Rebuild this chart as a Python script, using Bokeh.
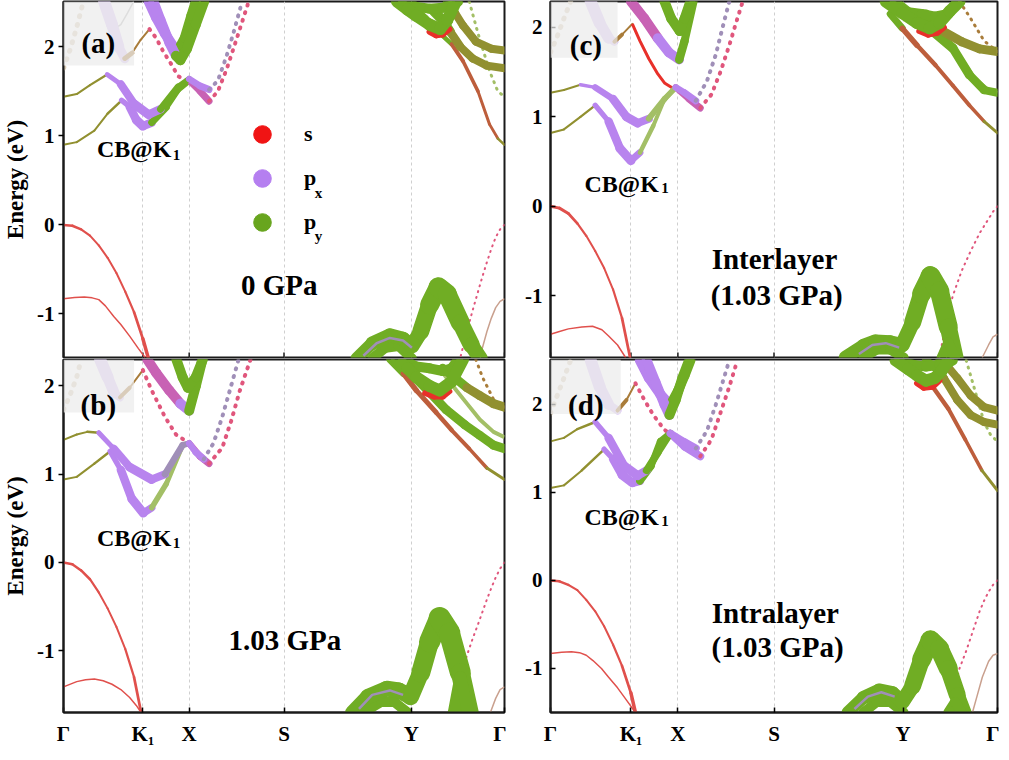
from bokeh.plotting import figure
from bokeh.layouts import gridplot
from bokeh.models import Range1d, FixedTicker, Label, BoxAnnotation, Legend, LegendItem
from bokeh.embed import file_html
from bokeh.resources import INLINE

# ---------------- axes / labels ----------------
K_TICKS = [0.0, 0.18, 0.285, 0.5, 0.789, 1.0]
K_LABELS = ["Γ", "K₁", "X", "S", "Y", "Γ"]
K_GRID = [0.18, 0.285, 0.5, 0.789]
E_TICKS = [-1, 0, 1, 2]
E_LABELS = ["-1", "0", "1", "2"]
E_RANGE_A = (-1.49, 2.51)
E_RANGE_B = (-1.70, 2.30)
E_RANGE_C = (-1.69, 2.29)
E_RANGE_D = (-1.50, 2.51)
LEGEND_LABELS = ["s", "p", "p"]
LEGEND_SUBS = ["", "x", "y"]

# band tuples: (k, E, width(s), colour code(s), style)  style: f = fat, l = line, d = dotted
# ---------------- panel (a): 0 GPa ----------------
A_VB1 = ([0, 0.02, 0.04, 0.06, 0.08, 0.10, 0.12, 0.14, 0.16, 0.18, 0.192], [0, -0.01, -0.05, -0.12, -0.23, -0.37, -0.54, -0.75, -0.98, -1.28, -1.49], [2.5, 2.5, 2.5, 2, 2, 2, 2, 2, 2.5, 3, 4], "R", "f")
A_VB2 = ([0, 0.025, 0.047, 0.065, 0.08, 0.095, 0.114, 0.13, 0.15, 0.17, 0.185], [-0.83, -0.815, -0.81, -0.82, -0.84, -0.91, -1.03, -1.12, -1.25, -1.39, -1.49], 1.5, "R", "l")
A_VB3 = ([1.0, 0.99, 0.98, 0.97, 0.96, 0.95, 0.94, 0.93, 0.92, 0.91, 0.90], [0, -0.05, -0.14, -0.27, -0.42, -0.58, -0.75, -0.92, -1.1, -1.29, -1.49], 2, "k", "d")
A_VB4 = ([1.0, 0.99, 0.98, 0.97, 0.96, 0.95, 0.945], [-0.83, -0.86, -0.93, -1.05, -1.2, -1.38, -1.49], 1.5, "c", "l")
A_HUMP = ([0.665, 0.70, 0.74, 0.77, 0.79, 0.81, 0.83, 0.85, 0.87, 0.90, 0.925, 0.945], [-1.5, -1.33, -1.24, -1.28, -1.36, -1.2, -0.9, -0.70, -0.78, -1.1, -1.35, -1.5], [12, 13, 14, 14, 14, 16, 18, 20, 20, 18, 16, 14], "g", "f")
A_HUMP2 = ([0.70, 0.73, 0.76, 0.79], [-1.5, -1.38, -1.36, -1.5], 10, "g", "f")
A_HUMP3 = ([0.68, 0.71, 0.74, 0.77, 0.79], [-1.47, -1.33, -1.27, -1.3, -1.38], 2.5, "v", "l")
A_CB1 = ([0, 0.03, 0.07, 0.10, 0.132, 0.15, 0.165, 0.18, 0.2, 0.233, 0.26, 0.285, 0.31, 0.33], [0.90, 0.93, 1.06, 1.25, 1.40, 1.33, 1.18, 1.11, 1.15, 1.32, 1.52, 1.62, 1.50, 1.39], [2, 2, 2, 2, 3, 8, 9, 9, 8, 6, 6, 6, 7, 7], "ooooppppgggmmm", "f")
A_CB1D = ([0.33, 0.35, 0.37, 0.39, 0.405, 0.42], [1.39, 1.5, 1.75, 2.05, 2.28, 2.51], 4, "k", "d")
A_CB2 = ([0, 0.03, 0.06, 0.099, 0.13, 0.16, 0.193, 0.22, 0.26, 0.285, 0.31, 0.33], [1.44, 1.47, 1.57, 1.69, 1.58, 1.36, 1.24, 1.30, 1.55, 1.64, 1.56, 1.52], [2, 2, 2, 2.5, 7, 9, 9, 8, 6, 6, 7, 7], "oooppppggppp", "f")
A_CB2D = ([0.33, 0.35, 0.37, 0.385, 0.405], [1.52, 1.62, 1.9, 2.15, 2.51], 4, "v", "d")
A_P1 = ([0.092, 0.11, 0.125, 0.139, 0.155, 0.175, 0.195], [2.51, 2.25, 2.0, 1.87, 1.93, 2.08, 2.2], [12, 12, 11, 8, 2, 2, 2], "lllbbbb", "f")
A_P1D = ([0.195, 0.21, 0.226, 0.245, 0.26, 0.285], [2.2, 2.1, 1.95, 1.8, 1.67, 1.6], 4, "k", "d")
A_V1 = ([0.193, 0.21, 0.23, 0.25, 0.26, 0.275, 0.29, 0.30], [2.51, 2.33, 2.15, 2.0, 1.96, 2.1, 2.35, 2.51], 10, "ppppgggg", "f")
A_V2 = ([0.204, 0.22, 0.24, 0.255, 0.265, 0.28, 0.30, 0.319], [2.51, 2.3, 2.05, 1.9, 1.85, 1.98, 2.25, 2.51], 10, "pppggggg", "f")
A_BEIGE = ([0, 0.015, 0.03, 0.045], [1.76, 1.97, 2.22, 2.51], 5, "e", "d")
A_GRAY = ([0.114, 0.13, 0.145, 0.159], [2.2, 2.25, 2.38, 2.51], 1.5, "x", "l")
A_LOOPR = ([0.83, 0.845, 0.86, 0.875], [2.17, 2.13, 2.14, 2.2], 6, "r", "f")
A_LOOP1 = ([0.756, 0.78, 0.80, 0.83, 0.854, 0.87, 0.89], [2.51, 2.42, 2.35, 2.25, 2.2, 2.3, 2.51], 12, "g", "f")
A_LOOP2 = ([0.77, 0.80, 0.83, 0.86, 0.88, 0.895], [2.51, 2.45, 2.43, 2.44, 2.47, 2.51], 10, "g", "f")
A_R1 = ([0.79, 0.82, 0.85, 0.88, 0.906, 0.94, 0.966, 0.985, 1.0], [2.45, 2.32, 2.17, 2.03, 1.84, 1.5, 1.13, 0.97, 0.90], [8, 7, 5, 4, 4, 3, 3, 2.5, 2.5], "gggnnnnoo", "f")
A_R2 = ([0.92, 0.94, 0.966, 0.985, 1.0], [2.51, 2.15, 1.73, 1.5, 1.44], 3, "y", "d")
A_R3 = ([0.84, 0.86, 0.877, 0.90, 0.928, 0.96, 1.0], [2.4, 2.3, 2.17, 2.0, 1.87, 1.79, 1.76], [10, 10, 9, 8, 8, 8, 8], "ggooooo", "f")
A_R4 = ([0.87, 0.888, 0.906, 0.935, 0.97, 1.0], [2.51, 2.38, 2.24, 2.06, 1.98, 1.96], 8, "gooooo", "f")

# ---------------- panel (b): 1.03 GPa ----------------
B_VB1 = ([0, 0.02, 0.04, 0.06, 0.08, 0.10, 0.12, 0.14, 0.16, 0.176], [0, -0.02, -0.09, -0.19, -0.34, -0.52, -0.73, -0.98, -1.3, -1.7], [2.5, 2.5, 2.5, 2.5, 2, 2, 2, 2, 2.5, 3], "R", "f")
B_VB2 = ([0, 0.03, 0.05, 0.07, 0.09, 0.11, 0.13, 0.15, 0.165, 0.176], [-1.41, -1.35, -1.33, -1.32, -1.34, -1.38, -1.44, -1.53, -1.62, -1.7], 1.5, "R", "l")
B_VB3 = ([1.0, 0.99, 0.98, 0.97, 0.96, 0.95, 0.94, 0.928, 0.915, 0.90, 0.888, 0.877], [0, -0.07, -0.17, -0.29, -0.42, -0.56, -0.7, -0.86, -1.05, -1.3, -1.5, -1.7], 2, "k", "d")
B_VB4 = ([1.0, 0.99, 0.98, 0.968], [-1.41, -1.44, -1.54, -1.7], 1.5, "c", "l")
B_HUMP = ([0.655, 0.69, 0.733, 0.76, 0.787, 0.81, 0.83, 0.853, 0.875, 0.90, 0.92], [-1.7, -1.52, -1.43, -1.45, -1.52, -1.25, -0.9, -0.63, -0.8, -1.25, -1.7], [14, 15, 16, 16, 16, 18, 20, 22, 22, 20, 18], "g", "f")
B_HUMP2 = ([0.68, 0.72, 0.75, 0.78], [-1.7, -1.58, -1.58, -1.7], 10, "g", "f")
B_HUMP3 = ([0.885, 0.90, 0.918], [-1.7, -1.3, -1.7], 12, "g", "f")
B_HUMP4 = ([0.67, 0.70, 0.74, 0.77], [-1.66, -1.5, -1.45, -1.5], 2.5, "v", "l")
B_CB1 = ([0, 0.03, 0.07, 0.106, 0.13, 0.155, 0.181, 0.2, 0.233, 0.27, 0.285, 0.31, 0.33], [0.94, 0.97, 1.12, 1.26, 1.05, 0.72, 0.56, 0.62, 0.89, 1.33, 1.35, 1.2, 1.12], [2, 2, 2, 3, 8, 9, 9, 6, 5, 5, 6, 7, 7], "oooppppyyymmm", "f")
B_CB1D = ([0.33, 0.36, 0.38, 0.40, 0.424], [1.12, 1.3, 1.6, 1.95, 2.3], 4, "k", "d")
B_CB2 = ([0, 0.03, 0.054, 0.08, 0.114, 0.15, 0.2, 0.23, 0.27, 0.285, 0.30, 0.318], [1.39, 1.45, 1.48, 1.47, 1.29, 1.08, 0.94, 1.0, 1.33, 1.35, 1.25, 1.17], [2, 2, 2, 3, 7, 9, 9, 7, 6, 6, 7, 7], "oooppppvvppp", "f")
B_CB2D = ([0.318, 0.34, 0.36, 0.38, 0.397], [1.17, 1.35, 1.65, 2.0, 2.3], 4, "v", "d")
B_P1 = ([0.083, 0.10, 0.115, 0.128, 0.15, 0.18], [2.3, 2.1, 1.92, 1.87, 1.98, 2.18], [12, 12, 10, 6, 2, 2], "lllbbb", "f")
B_P1D = ([0.18, 0.2, 0.23, 0.255, 0.285], [2.18, 1.95, 1.65, 1.45, 1.35], 4, "k", "d")
B_V1 = ([0.19, 0.21, 0.24, 0.265, 0.285, 0.30, 0.315], [2.3, 2.15, 1.95, 1.8, 1.72, 2.0, 2.3], 10, "mmmpggg", "f")
B_V2 = ([0.256, 0.27, 0.282, 0.30, 0.316], [2.3, 2.1, 1.98, 2.1, 2.3], 10, "g", "f")
B_BEIGE = ([0, 0.015, 0.03, 0.04], [1.73, 1.9, 2.1, 2.3], 5, "e", "d")
B_LOOPR = ([0.82, 0.84, 0.86, 0.875], [1.92, 1.88, 1.88, 1.94], 6, "r", "f")
B_LOOP1 = ([0.756, 0.78, 0.80, 0.83, 0.853, 0.88, 0.906], [2.3, 2.2, 2.1, 2.0, 1.95, 2.05, 2.3], 12, "g", "f")
B_LOOP2 = ([0.77, 0.80, 0.83, 0.86, 0.88, 0.895], [2.3, 2.22, 2.2, 2.17, 2.2, 2.3], 10, "g", "f")
B_R1 = ([0.74, 0.771, 0.80, 0.845, 0.88, 0.92, 0.96, 1.0], [2.3, 2.14, 1.95, 1.70, 1.5, 1.29, 1.07, 0.94], [8, 6, 5, 5, 4, 4, 3, 3], "gnnnnnoo", "f")
B_R2 = ([0.78, 0.794, 0.83, 0.868, 0.91, 0.944, 0.975, 1.0], [2.2, 2.11, 1.93, 1.73, 1.56, 1.44, 1.33, 1.29], 9, "g", "f")
B_R2B = ([0.86, 0.883, 0.915, 0.944, 0.975, 1.0], [2.15, 2.0, 1.8, 1.62, 1.48, 1.42], 4, "y", "l")
B_R4 = ([0.86, 0.883, 0.915, 0.944, 0.975, 1.0], [2.2, 2.11, 1.98, 1.89, 1.8, 1.76], 9, "ggoooo", "f")
B_R5 = ([0.935, 0.95, 0.975, 1.0], [2.3, 2.1, 1.85, 1.76], 3, "b", "d")

# ---------------- panel (c): interlayer 1.03 GPa ----------------
C_VB1 = ([0, 0.02, 0.04, 0.06, 0.08, 0.10, 0.12, 0.14, 0.16, 0.178], [0, -0.02, -0.08, -0.19, -0.33, -0.5, -0.69, -0.93, -1.25, -1.69], [3, 3, 3, 2.5, 2, 2, 2, 2, 2.5, 3], "R", "f")
C_VB2 = ([0, 0.02, 0.04, 0.07, 0.094, 0.115, 0.13, 0.15, 0.168], [-1.43, -1.4, -1.37, -1.35, -1.34, -1.38, -1.45, -1.55, -1.69], 1.5, "R", "l")
C_VB3 = ([1.0, 0.99, 0.98, 0.97, 0.96, 0.95, 0.94, 0.93, 0.92, 0.90, 0.885, 0.87], [0, -0.06, -0.14, -0.22, -0.3, -0.4, -0.5, -0.61, -0.72, -1.0, -1.3, -1.69], 2, "k", "d")
C_VB4 = ([1.0, 0.99, 0.98, 0.966], [-1.43, -1.46, -1.55, -1.69], 1.5, "c", "l")
C_HUMP = ([0.66, 0.70, 0.727, 0.76, 0.787, 0.81, 0.83, 0.85, 0.87, 0.89, 0.905], [-1.69, -1.56, -1.51, -1.52, -1.55, -1.3, -0.98, -0.78, -0.95, -1.35, -1.69], [13, 14, 14, 14, 14, 16, 18, 20, 20, 18, 16], "g", "f")
C_HUMP2 = ([0.70, 0.73, 0.76, 0.79], [-1.69, -1.6, -1.6, -1.69], 10, "g", "f")
C_HUMP3 = ([0.875, 0.89, 0.905], [-1.69, -1.52, -1.69], 10, "g", "f")
C_HUMP4 = ([0.69, 0.72, 0.75, 0.78], [-1.65, -1.55, -1.53, -1.58], 2.5, "v", "l")
C_CB1 = ([0, 0.03, 0.067, 0.10, 0.13, 0.155, 0.18, 0.2, 0.23, 0.255, 0.28, 0.31, 0.335], [0.82, 0.86, 1.0, 1.13, 0.95, 0.65, 0.51, 0.6, 0.9, 1.2, 1.33, 1.2, 1.10], [2, 2, 2, 2.5, 8, 9, 9, 5, 4, 4, 6, 7, 7], "oooppppyyymmm", "f")
C_CB1D = ([0.335, 0.36, 0.38, 0.40, 0.415, 0.43], [1.10, 1.25, 1.5, 1.8, 2.05, 2.29], 4, "k", "d")
C_CB2 = ([0, 0.03, 0.067, 0.10, 0.14, 0.17, 0.195, 0.22, 0.255, 0.28, 0.30, 0.325], [1.27, 1.3, 1.36, 1.33, 1.2, 1.0, 0.93, 0.98, 1.2, 1.33, 1.27, 1.18], [2, 2, 2, 5, 8, 9, 9, 7, 5, 6, 7, 7], "oopppppyyppp", "f")
C_CB2D = ([0.325, 0.35, 0.37, 0.385, 0.40], [1.18, 1.4, 1.7, 2.0, 2.29], 4, "v", "d")
C_P1 = ([0.09, 0.11, 0.13, 0.143, 0.16, 0.183], [2.29, 2.05, 1.88, 1.84, 1.92, 2.04], [12, 12, 10, 6, 2, 2], "lllbbb", "f")
C_P1D = ([0.183, 0.20, 0.22, 0.24, 0.255, 0.28], [2.04, 1.85, 1.65, 1.48, 1.38, 1.3], 3, "r", "l")
C_V1 = ([0.18, 0.21, 0.24, 0.265, 0.288, 0.30, 0.32], [2.29, 2.1, 1.88, 1.72, 1.64, 1.85, 2.29], [10, 10, 10, 10, 9, 8, 8], "mmppggg", "f")
C_V2 = ([0.255, 0.27, 0.289, 0.30, 0.313], [2.29, 2.1, 1.96, 2.1, 2.29], 10, "g", "f")
C_BEIGE = ([0, 0.015, 0.03, 0.045], [1.72, 1.9, 2.1, 2.29], 5, "e", "d")
C_LOOPR = ([0.825, 0.845, 0.865, 0.88], [1.96, 1.92, 1.94, 2.0], 6, "r", "f")
C_LOOP1 = ([0.75, 0.787, 0.82, 0.848, 0.87, 0.893, 0.915], [2.29, 2.16, 2.05, 1.99, 2.05, 2.18, 2.29], 12, "g", "f")
C_LOOP2 = ([0.77, 0.80, 0.83, 0.86, 0.89, 0.91], [2.29, 2.17, 2.15, 2.12, 2.15, 2.29], 10, "g", "f")
C_R1 = ([0.76, 0.787, 0.82, 0.861, 0.9, 0.937, 0.97, 1.0], [2.15, 1.99, 1.8, 1.58, 1.35, 1.13, 0.95, 0.82], [8, 6, 5, 4, 4, 4, 3, 3], "gnnnnnoo", "f")
C_R2 = ([0.83, 0.855, 0.9, 0.937, 0.97, 1.0], [2.1, 1.96, 1.77, 1.47, 1.3, 1.27], [10, 10, 9, 9, 8, 8], "g", "f")
C_R2B = ([0.87, 0.91, 0.95, 0.98, 1.0], [1.95, 1.72, 1.42, 1.3, 1.27], 4, "y", "l")
C_R4 = ([0.84, 0.86, 0.877, 0.92, 0.96, 1.0], [2.15, 2.05, 1.96, 1.84, 1.76, 1.73], 9, "ggoooo", "f")
C_R5 = ([0.915, 0.94, 0.97, 1.0], [2.29, 2.1, 1.85, 1.73], 3, "b", "d")

# ---------------- panel (d): intralayer 1.03 GPa ----------------
D_VB1 = ([0, 0.02, 0.04, 0.06, 0.08, 0.10, 0.12, 0.14, 0.16, 0.18, 0.19], [0, -0.01, -0.05, -0.11, -0.22, -0.35, -0.52, -0.73, -0.97, -1.28, -1.5], [2.5, 2.5, 2.5, 2, 2, 2, 2, 2, 2.5, 3, 4], "R", "f")
D_VB2 = ([0, 0.025, 0.047, 0.065, 0.08, 0.095, 0.114, 0.13, 0.15, 0.17, 0.19], [-0.83, -0.815, -0.81, -0.82, -0.85, -0.91, -1.0, -1.1, -1.22, -1.36, -1.5], 1.5, "R", "l")
D_VB3 = ([1.0, 0.99, 0.98, 0.97, 0.96, 0.95, 0.94, 0.93, 0.915, 0.905, 0.89], [0, -0.05, -0.13, -0.23, -0.35, -0.5, -0.65, -0.8, -1.0, -1.2, -1.5], 2, "k", "d")
D_VB4 = ([1.0, 0.99, 0.98, 0.966, 0.955, 0.944], [-0.83, -0.85, -0.92, -1.1, -1.3, -1.5], 1.5, "c", "l")
D_HUMP = ([0.665, 0.70, 0.735, 0.765, 0.787, 0.81, 0.83, 0.85, 0.87, 0.89, 0.91, 0.925], [-1.5, -1.33, -1.25, -1.28, -1.38, -1.2, -0.9, -0.68, -0.78, -1.0, -1.3, -1.5], [12, 13, 14, 14, 14, 16, 18, 20, 20, 18, 16, 14], "g", "f")
D_HUMP2 = ([0.70, 0.73, 0.76, 0.79], [-1.5, -1.38, -1.38, -1.5], 10, "g", "f")
D_HUMP3 = ([0.89, 0.905, 0.92], [-1.5, -1.38, -1.5], 10, "g", "f")
D_HUMP4 = ([0.68, 0.71, 0.74, 0.77], [-1.46, -1.32, -1.27, -1.32], 2.5, "v", "l")
D_CB1 = ([0, 0.03, 0.07, 0.12, 0.14, 0.16, 0.183, 0.2, 0.225, 0.246, 0.268, 0.30, 0.335], [1.05, 1.08, 1.25, 1.49, 1.38, 1.2, 1.11, 1.13, 1.3, 1.58, 1.67, 1.52, 1.41], [2, 2, 2, 3, 8, 9, 9, 8, 7, 7, 7, 8, 8], "oooppppgggppp", "f")
D_CB1D = ([0.335, 0.36, 0.38, 0.40, 0.418], [1.41, 1.6, 1.9, 2.2, 2.5], 4, "k", "d")
D_CB2 = ([0, 0.03, 0.06, 0.1, 0.13, 0.165, 0.195, 0.215, 0.24, 0.268, 0.30, 0.325], [1.58, 1.62, 1.72, 1.8, 1.62, 1.3, 1.19, 1.25, 1.45, 1.67, 1.57, 1.5], [2, 2, 2, 3, 8, 9, 9, 8, 7, 7, 8, 8], "oooppppggppp", "f")
D_CB2D = ([0.325, 0.35, 0.37, 0.385, 0.40], [1.5, 1.7, 2.0, 2.25, 2.5], 4, "v", "d")
D_P1 = ([0.09, 0.11, 0.13, 0.15, 0.17, 0.19], [2.5, 2.2, 2.0, 1.93, 2.05, 2.24], [12, 12, 10, 6, 2, 2], "lllbbb", "f")
D_P1D = ([0.19, 0.21, 0.23, 0.255, 0.268], [2.24, 2.05, 1.88, 1.71, 1.67], 4, "k", "d")
D_V1 = ([0.2, 0.22, 0.245, 0.268, 0.285, 0.30, 0.313], [2.5, 2.3, 2.12, 1.99, 2.15, 2.33, 2.5], 10, "pppgggg", "f")
D_V2 = ([0.215, 0.235, 0.255, 0.266, 0.28, 0.295, 0.31], [2.5, 2.25, 2.0, 1.88, 2.05, 2.3, 2.5], 10, "pppgggg", "f")
D_BEIGE = ([0, 0.015, 0.03, 0.045], [1.9, 2.1, 2.3, 2.5], 5, "e", "d")
D_LOOPR = ([0.82, 0.835, 0.855, 0.87], [2.24, 2.19, 2.2, 2.27], 6, "r", "f")
D_LOOP1 = ([0.772, 0.80, 0.82, 0.84, 0.86, 0.875, 0.89], [2.5, 2.4, 2.33, 2.27, 2.3, 2.38, 2.5], 12, "g", "f")
D_LOOP2 = ([0.78, 0.81, 0.84, 0.87, 0.89, 0.90], [2.5, 2.45, 2.43, 2.45, 2.47, 2.5], 10, "g", "f")
D_R1 = ([0.77, 0.80, 0.83, 0.855, 0.89, 0.928, 0.965, 1.0], [2.5, 2.38, 2.3, 2.2, 1.95, 1.6, 1.25, 1.02], [8, 7, 6, 5, 4, 4, 3, 3], "ggnnnnoo", "f")
D_R2 = ([0.93, 0.95, 0.97, 0.985, 1.0], [2.5, 2.15, 1.8, 1.65, 1.58], 3, "y", "d")
D_R3 = ([0.84, 0.86, 0.88, 0.91, 0.94, 0.97, 1.0], [2.5, 2.42, 2.3, 2.05, 1.88, 1.8, 1.77], 8, "ggooooo", "f")
D_R4 = ([0.87, 0.89, 0.91, 0.94, 0.97, 1.0], [2.5, 2.42, 2.3, 2.1, 1.97, 1.93], 8, "gooooo", "f")

BANDS_A = [A_VB2, A_VB4, A_VB3, A_VB1, A_HUMP2, A_HUMP, A_HUMP3, A_BEIGE, A_GRAY, A_P1, A_P1D,
           A_CB1, A_CB2, A_CB1D, A_CB2D, A_V1, A_V2, A_R2, A_R1, A_R3, A_R4, A_LOOPR, A_LOOP2, A_LOOP1]
BANDS_B = [B_VB2, B_VB4, B_VB3, B_VB1, B_HUMP2, B_HUMP, B_HUMP3, B_HUMP4, B_BEIGE, B_P1, B_P1D,
           B_CB1, B_CB2, B_CB1D, B_CB2D, B_V1, B_V2, B_R5, B_R1, B_R2B, B_R2, B_R4, B_LOOPR, B_LOOP2, B_LOOP1]
BANDS_C = [C_VB2, C_VB4, C_VB3, C_VB1, C_HUMP2, C_HUMP, C_HUMP3, C_HUMP4, C_BEIGE, C_P1, C_P1D,
           C_CB1, C_CB2, C_CB1D, C_CB2D, C_V1, C_V2, C_R5, C_R1, C_R2B, C_R2, C_R4, C_LOOPR, C_LOOP2, C_LOOP1]
BANDS_D = [D_VB2, D_VB4, D_VB3, D_VB1, D_HUMP2, D_HUMP, D_HUMP3, D_HUMP4, D_BEIGE, D_P1, D_P1D,
           D_CB1, D_CB2, D_CB1D, D_CB2D, D_V1, D_V2, D_R2, D_R1, D_R3, D_R4, D_LOOPR, D_LOOP2, D_LOOP1]

# ---------------- style ----------------
PAL = {
    "r": "#e8302a", "p": "#b884ee", "g": "#70ad24", "o": "#919030", "b": "#a97c3a",
    "m": "#c862b4", "k": "#e0567c", "v": "#a08fb8", "e": "#dacdb6", "l": "#dcc6f4",
    "y": "#a3bf66", "x": "#b8b8b8", "n": "#bd5e3c", "R": "#e0504c", "c": "#c9a08e",
}
LEG_COL = ["#f01414", "#b57ff0", "#68a51e"]
FONT = "Liberation Serif"
NAN = float("nan")


def draw_bands(p, bands):
    for k, e, w, c, st in bands:
        n = len(k)
        if st == "f":
            ws = w if isinstance(w, list) else [w] * n
            cs = c if len(c) >= n - 1 else c[-1] * n
            lw = [(ws[i] + ws[i + 1]) / 2 for i in range(n - 1)]
            lc = [PAL[cs[i]] for i in range(n - 1)]
            p.segment(x0=k[:-1], y0=e[:-1], x1=k[1:], y1=e[1:], line_width=lw,
                      line_color=lc, line_cap="round")
        elif st == "d":
            p.line(k, e, line_width=w, line_color=PAL[c], line_cap="round",
                   line_dash="1 %d" % (int(w) + 3))
        else:
            p.line(k, e, line_width=w, line_color=PAL[c], line_join="round")


def make_panel(yr, width, height, mbl, mbr, mbt, mbb, left, xlabels):
    p = figure(width=width, height=height, x_range=Range1d(0, 1), y_range=Range1d(*yr),
               output_backend="svg", toolbar_location=None,
               min_border_left=mbl, min_border_right=mbr, min_border_top=mbt, min_border_bottom=mbb)
    p.outline_line_color = "#1a1a1a"
    p.outline_line_width = 2
    p.outline_line_alpha = 1
    p.background_fill_color = "white"
    p.border_fill_color = "white"
    xa = p.xaxis[0]
    if xlabels:
        xa.ticker = FixedTicker(ticks=K_TICKS, minor_ticks=[])
        xa.major_label_overrides = {t: l for t, l in zip(K_TICKS, K_LABELS)}
        xa.major_tick_in = 5
        xa.major_tick_out = 0
        xa.major_tick_line_width = 1.5
        xa.axis_line_width = 2
        xa.axis_line_color = "#1a1a1a"
        xa.major_label_text_font = FONT
        xa.major_label_text_font_style = "bold"
        xa.major_label_text_font_size = "21px"
        xa.major_label_text_color = "black"
        xa.major_label_standoff = 9
    else:
        xa.visible = False
        # inward tick marks at the high-symmetry points on the lower edge
        y0 = [yr[0]] * len(K_TICKS)
        y1 = [yr[0] + 0.055] * len(K_TICKS)
        p.segment(x0=K_TICKS, x1=K_TICKS, y0=y0, y1=y1, line_color="#1a1a1a", line_width=1.5)
    ya = p.yaxis[0]
    ya.ticker = FixedTicker(ticks=E_TICKS, minor_ticks=[])
    ya.major_label_overrides = {t: l for t, l in zip(E_TICKS, E_LABELS)}
    ya.major_label_text_font = FONT
    ya.major_label_text_font_style = "bold"
    ya.major_label_text_font_size = "21px"
    ya.major_label_text_color = "black"
    ya.axis_line_width = 2
    ya.axis_line_color = "#1a1a1a"
    ya.major_tick_line_width = 1.5
    if left:
        ya.major_tick_in = 0
        ya.major_tick_out = 5
        ya.major_label_standoff = 4
        ya.axis_label = "Energy (eV)"
        ya.axis_label_text_font = FONT
        ya.axis_label_text_font_style = "bold"
        ya.axis_label_text_font_size = "23px"
        ya.axis_label_text_color = "black"
        ya.axis_label_standoff = 6
    else:
        ya.major_tick_in = 5
        ya.major_tick_out = 0
        ya.major_label_standoff = 8
    p.xgrid.ticker = FixedTicker(ticks=K_GRID, minor_ticks=[])
    p.xgrid.grid_line_color = "#cfcfcf"
    p.xgrid.grid_line_dash = "3 3"
    p.xgrid.grid_line_width = 1
    p.ygrid.grid_line_color = None
    return p


def txt(p, x, y, s, size, align="center"):
    p.add_layout(Label(x=x, y=y, text=s, text_font=FONT, text_font_style="bold",
                       text_font_size=size, text_align=align, text_baseline="alphabetic",
                       text_color="black"))


def decorate(p, tag, tag_y, box_r, box_b, box_t, cb_y, sub_y):
    p.add_layout(BoxAnnotation(left=0, right=box_r, bottom=box_b, top=box_t,
                               fill_color="#ececec", fill_alpha=0.72, line_alpha=0))
    txt(p, 0.079, tag_y, tag, "29px")
    txt(p, 0.076, cb_y, "CB@K", "24px", "left")
    txt(p, 0.248, sub_y, "1", "15px", "left")


pa = make_panel(E_RANGE_A, 506, 358, 58, 2, 1, 1, True, False)
pc = make_panel(E_RANGE_C, 493, 358, 44, 2, 1, 1, False, False)
pb = make_panel(E_RANGE_B, 506, 392, 58, 2, 1, 38, True, True)
pd = make_panel(E_RANGE_D, 493, 392, 44, 2, 1, 38, False, True)

draw_bands(pa, BANDS_A)
draw_bands(pb, BANDS_B)
draw_bands(pc, BANDS_C)
draw_bands(pd, BANDS_D)

decorate(pa, "(a)", 2.04, 0.16, 1.79, 2.51, 0.85, 0.79)
decorate(pb, "(b)", 1.78, 0.16, 1.70, 2.30, 0.28, 0.22)
decorate(pc, "(c)", 1.80, 0.15, 1.66, 2.29, 0.245, 0.20)
decorate(pd, "(d)", 1.99, 0.157, 1.89, 2.51, 0.72, 0.67)

txt(pa, 0.489, -0.67, "0 GPa", "29px")
txt(pb, 0.502, -0.88, "1.03 GPa", "29px")
txt(pc, 0.501, -0.59, "Interlayer", "29px")
txt(pc, 0.506, -0.99, "(1.03 GPa)", "29px")
txt(pd, 0.503, -0.37, "Intralayer", "29px")
txt(pd, 0.508, -0.76, "(1.03 GPa)", "29px")

# legend of orbital projections in panel (a)
items = []
for lab, col in zip(LEGEND_LABELS, LEG_COL):
    r = pa.scatter(x=[NAN], y=[NAN], size=20, fill_color=col, line_color=col)
    items.append(LegendItem(label=lab, renderers=[r]))
leg = Legend(items=items, location=(174, 113), glyph_width=50, glyph_height=44, spacing=0,
             padding=0, margin=0, label_standoff=17, border_line_alpha=0,
             background_fill_alpha=0, label_text_font=FONT, label_text_font_style="bold",
             label_text_font_size="22px", label_text_color="black")
pa.add_layout(leg)
txt(pa, 0.57, 0.36, LEGEND_SUBS[1], "15px", "left")
txt(pa, 0.57, -0.13, LEGEND_SUBS[2], "15px", "left")

grid = gridplot([[pa, pc], [pb, pd]], toolbar_location=None)
open("out.html", "w").write(file_html(grid, INLINE))
